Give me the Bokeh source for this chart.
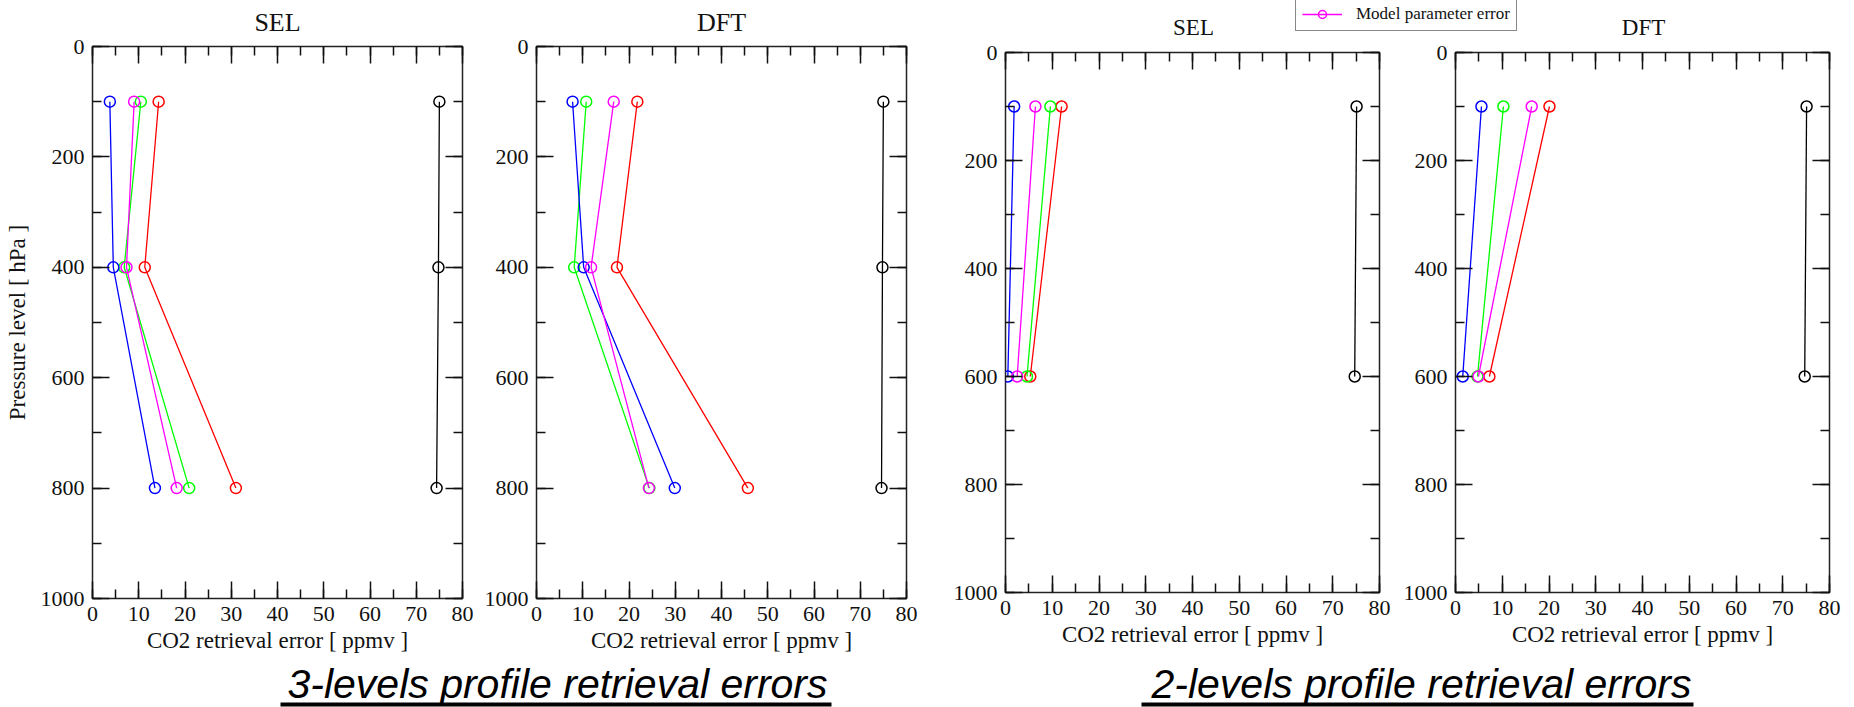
import numpy as np
from bokeh.plotting import figure
from bokeh.layouts import column, row
from bokeh.models import (Range1d, SingleIntervalTicker, LinearAxis, Label, Legend,
                          LegendItem, BoxAnnotation, CustomLabelingPolicy)
from bokeh.embed import file_html
from bokeh.resources import INLINE

# ---------------- data ----------------
levels_3 = [100, 400, 800]          # hPa
levels_2 = [100, 600]               # hPa

# 3-levels profile, SEL
sel3_red = [14.3, 11.3, 31.0]
sel3_green = [10.45, 6.85, 20.9]
sel3_blue = [3.75, 4.5, 13.5]
sel3_magenta = [9.0, 7.35, 18.2]
sel3_black = [75.0, 74.8, 74.4]

# 3-levels profile, DFT
dft3_red = [21.8, 17.4, 45.7]
dft3_green = [10.75, 8.15, 24.4]
dft3_blue = [7.8, 10.2, 29.9]
dft3_magenta = [16.7, 11.8, 24.3]
dft3_black = [75.0, 74.8, 74.6]

# 2-levels profile, SEL
sel2_red = [12.0, 5.3]
sel2_green = [9.6, 4.6]
sel2_blue = [1.85, 0.5]
sel2_magenta = [6.4, 2.5]
sel2_black = [75.1, 74.7]

# 2-levels profile, DFT
dft2_red = [20.1, 7.25]
dft2_green = [10.25, 4.7]
dft2_blue = [5.55, 1.55]
dft2_magenta = [16.3, 4.9]
dft2_black = [75.1, 74.7]

series_colors = ["#ff0000", "#00ff00", "#0000ff", "#ff00ff", "#000000"]
panel_titles = ["SEL", "DFT", "SEL", "DFT"]
x_label = "CO2 retrieval error [ ppmv ]"
y_label = "Pressure level [ hPa ]"
captions = ["3-levels profile retrieval errors", "2-levels profile retrieval errors"]
legend_label = "Model parameter error"

SERIF = "Liberation Serif"
INK = "#111111"

no_labels = CustomLabelingPolicy(code="for (const i of indices) indices.unset(i); return indices")


# ---------------- helpers ----------------
def style_axis(ax, show_labels, label=None):
    ax.axis_line_color = None
    ax.major_tick_in = 17
    ax.major_tick_out = 0
    ax.minor_tick_in = 9
    ax.minor_tick_out = 0
    ax.major_tick_line_color = INK
    ax.minor_tick_line_color = INK
    ax.major_tick_line_width = 1.5
    ax.minor_tick_line_width = 1.5
    if show_labels:
        ax.major_label_text_font = SERIF
        ax.major_label_text_font_size = "22px"
        ax.major_label_text_color = INK
        ax.major_label_standoff = 8
    else:
        ax.major_label_text_font_size = "1px"
        ax.major_label_standoff = 0
        ax.major_label_policy = no_labels
    if label:
        ax.axis_label = label
        ax.axis_label_text_font = SERIF
        ax.axis_label_text_font_size = "23px"
        ax.axis_label_text_font_style = "normal"
        ax.axis_label_text_color = INK


def make_panel(w, h, left, right, top, bottom, levels, series, title=None, ylab=None):
    p = figure(width=w, height=h, x_range=Range1d(0, 80), y_range=Range1d(1000, 0),
               output_backend="svg", toolbar_location=None,
               x_axis_type=None, y_axis_type=None,
               min_border_left=left, min_border_right=right,
               min_border_top=top, min_border_bottom=bottom)
    p.outline_line_color = "#222222"
    p.outline_line_width = 1.5
    p.background_fill_color = "white"
    p.border_fill_color = "white"

    xt = SingleIntervalTicker(interval=10, num_minor_ticks=2)
    yt = SingleIntervalTicker(interval=200, num_minor_ticks=2)

    ax_b = LinearAxis(ticker=xt)
    style_axis(ax_b, True, x_label)
    ax_b.axis_label_standoff = 4
    p.add_layout(ax_b, "below")

    ax_t = LinearAxis(ticker=xt)
    style_axis(ax_t, False)
    p.add_layout(ax_t, "above")

    ax_l = LinearAxis(ticker=yt)
    style_axis(ax_l, True, ylab)
    ax_l.axis_label_standoff = 8
    p.add_layout(ax_l, "left")

    ax_r = LinearAxis(ticker=yt)
    style_axis(ax_r, False)
    p.add_layout(ax_r, "right")

    if title is not None:
        p.title.text = title
        p.title.align = "center"
        p.title.text_font = SERIF
        p.title.text_font_size = "26px"
        p.title.text_font_style = "normal"
        p.title.text_color = INK
        p.title.standoff = 11

    for vals, col in zip(series, series_colors):
        p.line(x=vals, y=levels, line_color=col, line_width=1.3)
        p.scatter(x=vals, y=levels, marker="circle", size=11, fill_color=None,
                  line_color=col, line_width=1.5)
    return p


LEFT_H = 660
STRIP_R_H = 40
BOT_H = 707 - LEFT_H
RIGHT_H = LEFT_H - STRIP_R_H

p1 = make_panel(478, LEFT_H, 92, 16, 44, LEFT_H - 44 - 554, levels_3,
                [sel3_red, sel3_green, sel3_blue, sel3_magenta, sel3_black],
                title=panel_titles[0], ylab=y_label)
p2 = make_panel(457, LEFT_H, 58, 29, 44, LEFT_H - 44 - 554, levels_3,
                [dft3_red, dft3_green, dft3_blue, dft3_magenta, dft3_black],
                title=panel_titles[1])
p3 = make_panel(461, RIGHT_H, 70, 17, 52 - STRIP_R_H, RIGHT_H - (52 - STRIP_R_H) - 540,
                levels_2, [sel2_red, sel2_green, sel2_blue, sel2_magenta, sel2_black])
p4 = make_panel(458, RIGHT_H, 59, 25, 52 - STRIP_R_H, RIGHT_H - (52 - STRIP_R_H) - 540,
                levels_2, [dft2_red, dft2_green, dft2_blue, dft2_magenta, dft2_black])


def make_strip(w, h, x0):
    s = figure(width=w, height=h, x_range=Range1d(x0, x0 + w), y_range=Range1d(h, 0),
               output_backend="svg", toolbar_location=None,
               x_axis_type=None, y_axis_type=None, min_border=0,
               min_border_left=0, min_border_right=0, min_border_top=0, min_border_bottom=0)
    s.outline_line_color = None
    s.background_fill_color = "white"
    s.border_fill_color = "white"
    return s


# ---------------- right top strip: 2-level titles + legend ----------------
top = make_strip(1854 - 935, STRIP_R_H, 935)
for tx, t in zip([1193, 1643], panel_titles[2:]):
    top.add_layout(Label(x=tx, y=27, text=t, text_align="center", text_baseline="middle",
                         text_font=SERIF, text_font_size="23px", text_color=INK))

r_l = top.line(x=dft2_magenta, y=levels_2, line_color="#ff00ff", line_width=1.3, visible=False)
r_s = top.scatter(x=dft2_magenta, y=levels_2, marker="circle", size=9, fill_color=None,
                  line_color="#ff00ff", line_width=1.5, visible=False)
legend = Legend(items=[LegendItem(label=legend_label, renderers=[r_l, r_s])],
                location=(360, 9), click_policy="none",
                padding=6, spacing=0, margin=0, glyph_width=40, glyph_height=20,
                label_height=20, label_standoff=14,
                label_text_font=SERIF, label_text_font_size="17px", label_text_color=INK,
                border_line_color=INK, border_line_width=1.5,
                background_fill_color="white", background_fill_alpha=1.0)
top.add_layout(legend)

# ---------------- bottom strip: captions ----------------
bot = make_strip(1854, BOT_H, 0)
cap_pos = [(557, 280, 831), (1421, 1141, 1693)]
for (cx, ul, ur), txt in zip(cap_pos, captions):
    bot.add_layout(Label(x=cx, y=683.6 - LEFT_H, text=txt, text_align="center",
                         text_baseline="middle",
                         text_font="Liberation Sans", text_font_style="italic",
                         text_font_size="41px", text_color="black"))
    bot.add_layout(BoxAnnotation(left=ul, right=ur, top=702 - LEFT_H, bottom=706 - LEFT_H,
                                 fill_color="black", fill_alpha=1.0, line_color=None))

layout = column(row(row(p1, p2), column(top, row(p3, p4))), bot)

open("out.html", "w").write(file_html(layout, INLINE))
